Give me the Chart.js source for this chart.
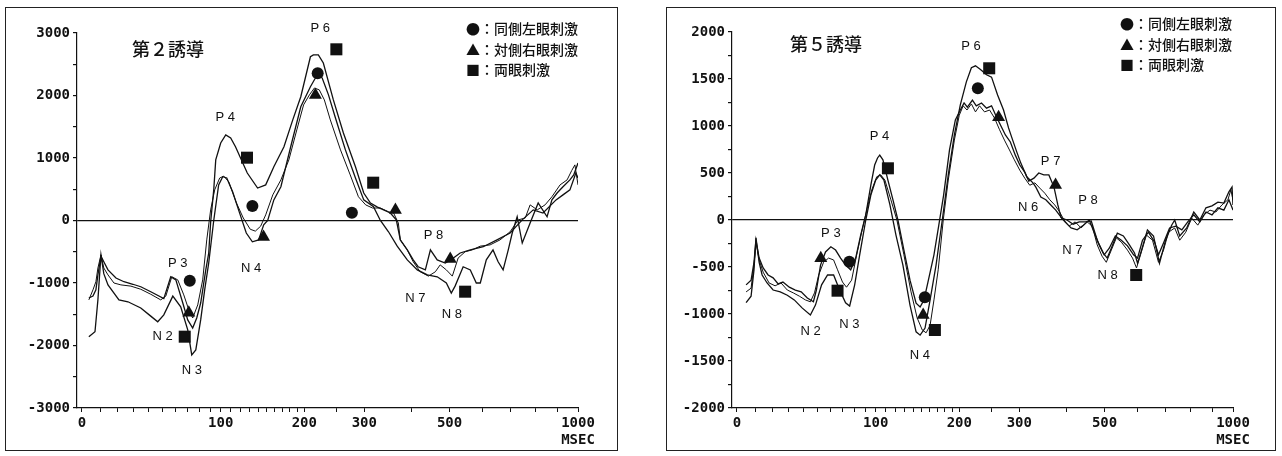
<!DOCTYPE html>
<html>
<head>
<meta charset="utf-8">
<script src="https://cdn.jsdelivr.net/npm/chart.js@4.4.1/dist/chart.umd.min.js"></script>
<style>
  body { margin: 0; width: 1282px; height: 456px; background: #fff; position: relative; overflow: hidden;
         font-family: "Noto Sans CJK JP", sans-serif; color: #111; }
  .frame { position: absolute; border: 1.5px solid #222; box-sizing: border-box; }
  .holder { position: absolute; top: 0; height: 456px; }
  .title { position: absolute; font-size: 18px; line-height: 20px; font-weight: 500; white-space: nowrap; }
  .legend { position: absolute; font-size: 14px; line-height: 20.5px; font-weight: 500; white-space: nowrap; }
</style>
</head>
<body>
<div class="frame" style="left:5px;top:7px;width:613px;height:444px"></div>
<div class="frame" style="left:666px;top:7px;width:610px;height:444px"></div>

<div class="holder" style="left:0;width:640px"><canvas id="lead2"></canvas></div>
<div class="holder" style="left:640px;width:642px"><canvas id="lead5"></canvas></div>

<div class="title" style="left:132px;top:38px">第２誘導</div>
<div class="title" style="left:790px;top:33px">第５誘導</div>
<div class="legend" id="legend2" style="left:466px;top:18px"></div>
<div class="legend" id="legend5" style="left:1120px;top:13px"></div>

<script>
// ── evoked potential traces, x = ms after stimulus, y = amplitude ──────

const stimNames = ["同側左眼刺激", "対側右眼刺激", "両眼刺激"];
const stimGlyphs = ["●", "▲", "■"];

const xTickValues = [0, 10, 20, 30, 40, 50, 60, 70, 80, 90, 100, 110, 120, 130, 140, 150, 160, 170, 180, 190,
                     200, 250, 300, 400, 500, 600, 700, 800, 900, 1000];
const xTickLabels = { 0: "0", 100: "100", 200: "200", 300: "300", 500: "500", 1000: ["1000", "MSEC"] };

// 第2誘導
const lead2Ipsi = [[3.6,-1860],[6.9,-1780],[8.5,-1270],[10.2,-550],[11.8,-850],[14.2,-1030],[20.7,-1270],[26.3,-1300],
  [34.7,-1400],[41.6,-1530],[46.6,-1620],[51.1,-1510],[58,-1210],[64.3,-1380],[70.1,-1750],[73.5,-2150],[77,-2070],
  [81.3,-1590],[84.9,-1110],[88.6,-680],[93.3,0],[98,570],[102,700],[106,680],[112,460],[120,90],[126.6,-200],
  [133.4,-340],[140.6,-310],[146.6,-70],[151.4,0],[159,330],[168,540],[181,1180],[195,1820],[209,2140],[216.5,2280],
  [221,2345],[227,2280],[237,2010],[248.5,1640],[265.5,1130],[283.5,680],[299,330],[318,220],[332,0],[349,-180],
  [368,-410],[391,-630],[415,-790],[440,-870],[466,-900],[491,-1000],[505,-1160],[516,-1050],[540,-740],[562,-790],
  [581,-1000],[594,-1000],[614,-630],[637,-470],[655,-660],[673,-790],[692,-470],[707,-200],[726,60],[746,-360],
  [778,-40],[812,280],[851,60],[873,330],[897,440],[925,540],[959,650],[978,730],[1000,920]];
const lead2Contra = [[3.6,-1270],[5.8,-1110],[7.4,-980],[8.5,-760],[10.2,-550],[11.8,-760],[14.2,-870],[17.7,-1000],
  [21.9,-1030],[28.2,-1050],[34.7,-1100],[41.6,-1180],[48.8,-1270],[52.6,-1210],[57.2,-900],[61.9,-950],[66.8,-1190],
  [71,-1430],[74.3,-1560],[78.7,-1350],[83.1,-950],[86.8,-310],[90.4,170],[94.2,490],[99,680],[103,710],[108,620],
  [116,280],[123.3,40],[131,-140],[136.8,-170],[143,-90],[149,90],[157.7,410],[168,650],[178.5,970],[189.4,1450],
  [199,1850],[207.5,2010],[215,2120],[222.5,2090],[230.4,1930],[240,1610],[257,1130],[274,730],[289,380],[302.7,250],
  [316,200],[332,200],[349,140],[360,120],[370.5,-40],[375,-310],[391,-470],[405,-660],[422,-820],[443,-890],
  [461,-820],[474,-710],[491,-790],[508,-890],[525,-600],[546,-500],[568,-470],[594,-410],[627,-390],[662,-310],
  [699,-180],[730,10],[758,40],[778,250],[808,170],[842,250],[873,380],[911,570],[945,650],[968,800],[984,890],[1000,570]];
const lead2Both = [[3.6,-1240],[5.8,-1210],[7.4,-1110],[8.5,-870],[10.2,-570],[11.8,-660],[14.2,-790],[18.9,-920],
  [23.8,-980],[29.5,-1020],[34.7,-1060],[41.6,-1140],[51.1,-1250],[56.4,-900],[60.4,-950],[66,-1320],[70.1,-1590],
  [74.3,-1720],[77.8,-1560],[81.3,-1320],[85.9,-790],[88.6,-520],[90.4,-25],[93.3,490],[95.2,970],[100,1240],
  [105,1370],[110,1320],[115,1180],[127.7,760],[139.4,520],[149,570],[159,860],[172,1180],[183.8,1610],[195,1980],
  [209,2620],[213.5,2650],[221,2650],[228.8,2520],[245,1930],[262,1400],[283.5,860],[299,440],[312,280],[326,215],
  [353,120],[366,10],[375,-310],[391,-470],[405,-630],[417,-740],[435,-790],[448,-470],[466,-630],[488,-680],
  [511,-600],[531,-520],[562,-470],[604,-420],[651,-310],[699,-200],[746,10],[791,170],[833,120],[892,330],
  [925,410],[959,490],[989,760],[1000,680]];
const lead2MarkIpsi = [[71.8,-963],[133.4,232],[220,2355],[277,125]];
const lead2MarkContra = [[71,-1475],[146.4,-264],[216.5,2008],[364,168],[502,-616]];
const lead2MarkBoth = [[67.6,-1859],[127.4,1005],[250,2739],[317.4,605],[546,-1139]];
const lead2PeakNames = ["P 3", "N 2", "N 3", "P 4", "N 4", "P 6", "P 8", "N 7", "N 8"];
const lead2PeakMs = [61.9, 50.2, 73.6, 104.5, 132, 224, 456, 410, 507];
const lead2PeakUv = [-680, -1850, -2392, 1645, -760, 3075, -232, -1240, -1496];

// 第5誘導
const lead5Ipsi = [[4.8,-690],[7.5,-640],[9.1,-450],[10.2,-215],[12,-405],[14.3,-510],[17.2,-585],[20.2,-615],
  [23.3,-680],[26.3,-660],[30.4,-715],[34.4,-745],[38.4,-765],[42.7,-830],[47.1,-870],[49.3,-745],[52.4,-480],
  [56.2,-340],[60.4,-285],[64.2,-320],[68.3,-405],[72.5,-480],[76.9,-530],[81.3,-405],[85.8,-160],[90.5,55],
  [95.3,370],[99,585],[101.8,660],[104,690],[107.2,640],[112.3,425],[117.6,215],[122.9,0],[129.5,-320],[136.4,-640],
  [143.5,-885],[148.3,-925],[153,-850],[157.9,-660],[165.5,-370],[171.8,-55],[178.2,265],[186.2,745],[194.4,1065],
  [201.5,1170],[207,1245],[211.9,1200],[219.6,1275],[225.6,1215],[233.8,1245],[242,1190],[250.3,1215],[257,1120],
  [265.6,1010],[274.3,905],[283.3,830],[292.5,690],[301,585],[310.6,510],[318.5,415],[329,445],[339,500],[349.6,480],
  [360.6,480],[372,350],[380.7,160],[387.8,30],[397.3,-20],[412,-85],[427,-105],[442.6,-55],[458,0],[471,-130],
  [485,-265],[499,-370],[513.6,-300],[531.5,-170],[549.6,-215],[568.8,-275],[588.4,-370],[601.4,-405],[618,-215],
  [638.6,-130],[660,-235],[674.4,-370],[693,-245],[716,-85],[740,-65],[764.6,-105],[789,-20],[814.6,55],[841,-20],
  [868.6,85],[896.4,55],[924.6,130],[953.8,105],[979,215],[1000,105]];
const lead5Contra = [[4.8,-765],[7.5,-725],[9.1,-480],[10.2,-235],[12,-425],[14.3,-555],[17.8,-670],[21.4,-700],
  [25.1,-670],[29.1,-745],[33,-775],[37.1,-810],[41.3,-850],[44.9,-870],[47.9,-775],[51,-585],[54.7,-450],[58.6,-405],
  [62.6,-425],[65.8,-530],[69.9,-660],[73.3,-715],[77.7,-640],[82.2,-370],[86.7,-130],[91.4,105],[96.2,320],[101,460],
  [105,480],[109.2,425],[115.4,215],[121.8,0],[129.5,-370],[137.6,-765],[144.7,-1040],[150.9,-1170],[155.6,-1200],
  [160.6,-1120],[165.5,-850],[171,-530],[177.7,0],[184.5,425],[193,850],[200,1115],[205.7,1215],[211.3,1170],
  [218,1235],[224.3,1150],[230.7,1215],[238.7,1150],[247,1170],[255.3,1085],[264,960],[272.6,850],[281.7,745],
  [290.7,640],[301,530],[310.6,445],[320.5,370],[331,395],[341,340],[351.8,285],[362.7,215],[373.7,160],[385,85],
  [395,0],[407,-65],[422,-20],[437,-85],[452.6,-20],[466,-65],[479.6,-265],[493,-385],[505,-450],[519.6,-320],
  [534.5,-190],[549.6,-235],[568.8,-320],[585,-405],[598,-510],[611.5,-370],[631.6,-160],[652.8,-215],[674.4,-450],
  [693,-320],[712,-130],[736,-85],[756,-215],[780.6,-130],[806,20],[832,-55],[859.4,55],[887,105],[915,85],
  [944,160],[974,215],[989,320],[1000,215]];
const lead5Both = [[4.8,-880],[7.5,-810],[9.1,-530],[10.2,-190],[12,-450],[13.7,-585],[16.6,-670],[20.2,-745],
  [24.6,-765],[29.1,-800],[33.7,-850],[39,-935],[44.9,-1010],[48.6,-905],[53.2,-690],[57.8,-585],[62.6,-585],
  [67.5,-745],[72.5,-880],[76,-915],[80.4,-690],[84.9,-370],[90.5,0],[95.3,265],[100,425],[104,480],[108.2,425],
  [114.4,160],[120.8,-160],[128.4,-480],[136.4,-905],[143.5,-1190],[148.3,-1225],[154.3,-1150],[160.6,-850],
  [168.2,-480],[176.4,0],[184.5,480],[193,905],[201.5,1225],[210.4,1470],[218,1620],[224.3,1640],[232.2,1600],
  [242,1545],[250.3,1520],[260.6,1330],[271,1170],[280,980],[287.6,850],[295.2,725],[303,605],[314.6,460],[327,395],
  [332.9,350],[343.3,245],[354,215],[364.9,160],[376,105],[389.9,20],[402,0],[417,-45],[432,-20],[447.6,-20],
  [463.4,-10],[479.6,-215],[496,-350],[507.6,-405],[519.6,-300],[537.5,-140],[556,-170],[575,-265],[591.5,-350],
  [601.4,-460],[614.8,-320],[635,-105],[656.4,-170],[678,-460],[700.8,-215],[724,-55],[736,0],[756,-170],[784.7,-85],
  [814.6,85],[841,0],[868.6,130],[896.4,150],[924.6,190],[953.8,180],[979,300],[995,350],[1000,160]];
const lead5MarkIpsi = [[75.7,-443],[154,-823],[228,1401]];
const lead5MarkContra = [[52.6,-408],[152,-1011],[262.3,1093],[375.5,372]];
const lead5MarkBoth = [[65.8,-752],[112.3,550],[166.7,-1170],[246.4,1614],[597,-585]];
const lead5PeakNames = ["P 3", "N 2", "N 3", "P 4", "N 4", "P 6", "P 7", "N 6", "P 8", "N 7", "N 8"];
const lead5PeakMs = [60.4, 45, 75.7, 103.8, 147.9, 217.3, 364.5, 317, 455, 415, 508.7];
const lead5PeakUv = [-142, -1188, -1107, 886, -1436, 1851, 620, 135, 213, -319, -585];

// ── time axis: log(t + offset), as on the original recorder plot ──────
const X_OFFSET = 110;
class OffsetLogScale extends Chart.LinearScale {
  buildTicks() { return xTickValues.map(value => ({ value })); }
  _f(v) { return Math.log(v + X_OFFSET); }
  getPixelForValue(value) {
    if (value === null || value === undefined || isNaN(value)) return NaN;
    const a = this._f(this.min), b = this._f(this.max);
    return this.getPixelForDecimal((this._f(value) - a) / (b - a));
  }
  getValueForPixel(pixel) {
    const a = this._f(this.min), b = this._f(this.max);
    return Math.exp(a + this.getDecimalForPixel(pixel) * (b - a)) - X_OFFSET;
  }
}
OffsetLogScale.id = "offsetlog";
OffsetLogScale.defaults = {};
Chart.register(OffsetLogScale);

const toXY = pts => pts.map(([x, y]) => ({ x, y }));
const tickFont = { family: "'DejaVu Sans Mono', monospace", size: 14, weight: "bold" };

function peakLabelPlugin(names, ms, uv) {
  return {
    id: "peakLabels",
    afterDatasetsDraw(chart) {
      const { ctx, scales: { x, y } } = chart;
      ctx.save();
      ctx.font = "13px 'Liberation Sans', Arial, sans-serif";
      ctx.fillStyle = "#111";
      ctx.textAlign = "center";
      ctx.textBaseline = "middle";
      names.forEach((n, i) => ctx.fillText(n, x.getPixelForValue(ms[i]), y.getPixelForValue(uv[i])));
      ctx.restore();
    },
  };
}

function renderLead(id, traces, marks, peaks, yRange, pad) {
  const [yMin, yMax, yStep, yLabelStep] = yRange;
  const lineSets = traces.map((t, i) => ({
    type: "line",
    label: stimNames[i],
    data: toXY(t),
    borderColor: "#111",
    borderWidth: i === 1 ? 1 : 1.3,
    pointRadius: 0,
    fill: false,
    tension: 0,
  }));
  const markStyles = [["circle", 6], ["triangle", 7.5], ["rect", 8.5]];
  const markSets = marks.map((m, i) => ({
    type: "scatter",
    label: stimGlyphs[i] + "：" + stimNames[i],
    data: toXY(m),
    pointStyle: markStyles[i][0],
    pointRadius: markStyles[i][1],
    backgroundColor: "#111",
    borderColor: "#111",
    borderWidth: 0,
    clip: false,
  }));

  return new Chart(document.getElementById(id), {
    data: { datasets: [...lineSets, ...markSets] },
    plugins: [peakLabelPlugin(...peaks)],
    options: {
      responsive: true,
      maintainAspectRatio: false,
      animation: false,
      events: [],
      layout: { padding: pad },
      plugins: { legend: { display: false }, tooltip: { enabled: false } },
      scales: {
        x: {
          type: "offsetlog",
          min: -2.5,
          max: 1000,
          afterFit: s => { s.height = 40; },
          border: { display: true, color: "#111", width: 1.2 },
          grid: { drawOnChartArea: false, drawTicks: true, tickLength: 4, tickColor: "#111" },
          ticks: {
            autoSkip: false, maxRotation: 0, padding: 3, color: "#111", font: tickFont,
            callback: v => xTickLabels[v] ?? "",
          },
        },
        y: {
          type: "linear",
          min: yMin,
          max: yMax,
          afterFit: s => { s.width = 60; },
          border: { display: true, color: "#111", width: 1.2 },
          grid: {
            drawOnChartArea: true, drawTicks: true, tickLength: 4, tickColor: "#111",
            color: c => (c.tick && c.tick.value === 0 ? "#111" : "rgba(0,0,0,0)"),
            lineWidth: 1.2,
          },
          ticks: {
            stepSize: yStep, padding: 3, color: "#111", font: tickFont,
            callback: v => (v % yLabelStep === 0 ? String(v) : ""),
          },
        },
      },
    },
  });
}

function renderLegend(id) {
  document.getElementById(id).innerHTML =
    stimNames.map((n, i) => stimGlyphs[i] + "：" + n).join("<br>");
}

renderLead("lead2", [lead2Ipsi, lead2Contra, lead2Both], [lead2MarkIpsi, lead2MarkContra, lead2MarkBoth],
  [lead2PeakNames, lead2PeakMs, lead2PeakUv], [-3000, 3000, 500, 1000],
  { left: 17, right: 62, top: 33, bottom: 8 });
renderLead("lead5", [lead5Ipsi, lead5Contra, lead5Both], [lead5MarkIpsi, lead5MarkContra, lead5MarkBoth],
  [lead5PeakNames, lead5PeakMs, lead5PeakUv], [-2000, 2000, 250, 500],
  { left: 32, right: 49, top: 32, bottom: 8 });
renderLegend("legend2");
renderLegend("legend5");
</script>
</body>
</html>
